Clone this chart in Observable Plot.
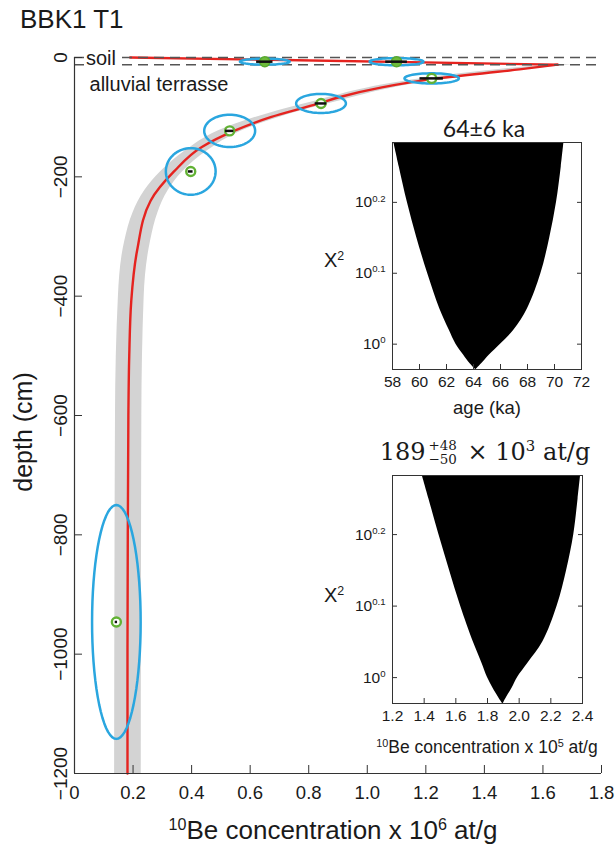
<!DOCTYPE html>
<html><head><meta charset="utf-8">
<script src="https://cdn.jsdelivr.net/npm/d3@7"></script>
<script src="https://cdn.jsdelivr.net/npm/@observablehq/plot@0.6"></script>
<style>
body{margin:0;background:#fff;}
#wrap{position:relative;width:615px;height:847px;overflow:hidden;font-family:"Liberation Sans",Arial,sans-serif;color:#1a1a1a;}
#wrap svg{position:absolute;overflow:visible;}
.lbl{position:absolute;white-space:nowrap;line-height:1;transform:translate(-50%,-50%);}
.lbl sup{font-size:62%;vertical-align:0.55em;line-height:0;}
</style></head><body><div id="wrap"></div>
<script>
// ---------- main profile data ----------
const concTicks = [0, 0.2, 0.4, 0.6, 0.8, 1.0, 1.2, 1.4, 1.6, 1.8];
const depthTicks = [0, -200, -400, -600, -800, -1000, -1200];
const layerDepths = [0, -12];

const sampleConc  = [0.65, 1.10, 1.22, 0.842, 0.53, 0.397, 0.143];
const sampleDepth = [-7, -7, -35, -77, -123, -191, -946];
const sampleErr   = [0.028, 0.037, 0.040, 0.020, 0.014, 0.008, 0.004];
const ellipseDx   = [0.085, 0.092, 0.093, 0.085, 0.087, 0.085, 0.083];
const ellipseDy   = [5, 6, 8.5, 16, 27, 39, 196];

const soilDepth = [0, -12];
const soilConc  = [0.19, 1.65];
const modelDepth = [-12, -20, -35, -50, -67, -77, -100, -123, -150, -191, -240, -323, -407, -500, -600, -800, -1000, -1200];
const modelConc  = [1.65, 1.52, 1.24, 1.05, 0.90, 0.835, 0.67, 0.545, 0.435, 0.34, 0.26, 0.214, 0.194, 0.187, 0.184, 0.182, 0.181, 0.181];
const bandDepth = [-12, -35, -77, -123, -156, -191, -223, -260, -307, -400, -600, -1200];
const bandLow   = [1.61, 1.19, 0.79, 0.49, 0.38, 0.295, 0.24, 0.20, 0.172, 0.150, 0.14, 0.137];
const bandHigh  = [1.70, 1.28, 0.87, 0.57, 0.455, 0.37, 0.32, 0.285, 0.26, 0.238, 0.23, 0.228];

// ---------- inset data ----------
const chiTickExp = ["0", "0.1", "0.2"];
const chiTicks = chiTickExp.map(e => 10 ** (+e));

const ageTicks = [58, 60, 62, 64, 66, 68, 70, 72];
const ageChi   = [1.925, 1.778, 1.585, 1.413, 1.259, 1.122, 1.047, 1.0, 0.966, 0.938, 0.921];
const ageLow   = [58.1, 58.5, 59.1, 59.8, 60.6, 61.5, 62.2, 62.7, 63.25, 63.75, 64.15];
const ageHigh  = [70.7, 70.5, 70.15, 69.65, 69.0, 68.0, 67.0, 66.0, 65.2, 64.6, 64.2];

const beTicks = [1.2, 1.4, 1.6, 1.8, 2.0, 2.2, 2.4];
const beChi   = [1.917, 1.778, 1.585, 1.413, 1.259, 1.122, 1.047, 1.0, 0.966, 0.938, 0.920];
const beLow   = [1.388, 1.43, 1.493, 1.56, 1.63, 1.71, 1.765, 1.80, 1.835, 1.87, 1.895];
const beHigh  = [2.388, 2.372, 2.345, 2.30, 2.24, 2.15, 2.055, 1.99, 1.955, 1.92, 1.90];

// ---------- helpers ----------
const wrap = document.getElementById("wrap");
const SVGNS = "http://www.w3.org/2000/svg";
function supify(root) {
  root.querySelectorAll("text").forEach(t => {
    const s = t.textContent;
    if (!s.includes("^{")) return;
    while (t.firstChild) t.removeChild(t.firstChild);
    const re = /\^\{([^}]*)\}/g; let last = 0, m;
    while ((m = re.exec(s))) {
      if (m.index > last) { const a = document.createElementNS(SVGNS, "tspan"); a.textContent = s.slice(last, m.index); t.appendChild(a); }
      const sp = document.createElementNS(SVGNS, "tspan");
      sp.textContent = m[1]; sp.setAttribute("font-size", "62%"); sp.setAttribute("dy", "-0.6em");
      t.appendChild(sp);
      last = re.lastIndex;
    }
  });
}
function place(el, left, top) { el.style.left = left + "px"; el.style.top = top + "px"; wrap.appendChild(el); }
function label(html, x, y, style) {
  const d = document.createElement("div"); d.className = "lbl"; d.innerHTML = html;
  Object.assign(d.style, style || {}); d.style.left = x + "px"; d.style.top = y + "px"; wrap.appendChild(d); return d;
}

// ---------- main chart ----------
const samples = sampleConc.map((c, i) => ({c, d: sampleDepth[i], e: sampleErr[i]}));
const ellipsePts = sampleConc.flatMap((c, i) => d3.range(0, 73).map(k => {
  const a = k / 72 * 2 * Math.PI;
  return {i, x: c + ellipseDx[i] * Math.cos(a), y: sampleDepth[i] + ellipseDy[i] * Math.sin(a)};
}));
const model = modelDepth.map((d, i) => ({d, c: modelConc[i]}));
const soil = soilDepth.map((d, i) => ({d, c: soilConc[i]}));
const band = bandDepth.map((d, i) => ({d, lo: bandLow[i], hi: bandHigh[i]}));

const main = Plot.plot({
  width: 615, height: 847,
  marginLeft: 74, marginRight: 14, marginTop: 57, marginBottom: 74,
  x: {domain: [0, 1.8], label: null},
  y: {domain: [-1200, 0], label: null},
  style: {fontFamily: "Liberation Sans, Arial, sans-serif", fontSize: "19px", color: "#1a1a1a", background: "transparent"},
  marks: [
    Plot.areaX(band, {y: "d", x1: "lo", x2: "hi", fill: "#d3d3d3", curve: "monotone-y"}),
    Plot.line(soil, {x: "c", y: "d", stroke: "#e5231f", strokeWidth: 2.4}),
    Plot.line(model, {x: "c", y: "d", stroke: "#e5231f", strokeWidth: 2.4, curve: "monotone-y"}),
    Plot.ruleY(layerDepths, {stroke: "#555", strokeWidth: 1.5, strokeDasharray: "10,6"}),
    Plot.line(ellipsePts, {x: "x", y: "y", z: "i", stroke: "#2aa6df", strokeWidth: 2.5}),
    Plot.dot(samples.filter(s => s.d > -20), {x: "c", y: "d", r: 5, fill: "#6dbb3a", stroke: "#5aa92f", strokeWidth: 1.5}),
    Plot.dot(samples.filter(s => s.d <= -20), {x: "c", y: "d", r: 4.5, fill: "#fff", stroke: "#62b234", strokeWidth: 2.4}),
    Plot.ruleY(samples, {y: "d", x1: s => s.c - s.e, x2: s => s.c + s.e, stroke: "#111", strokeWidth: 2.5}),
    Plot.ruleX([0], {stroke: "#333", strokeWidth: 1.2}),
    Plot.ruleY([-1200], {stroke: "#333", strokeWidth: 1.2}),
    Plot.axisX(concTicks, {tickSize: 8, dy: -8, tickPadding: 12, stroke: "#333", fontSize: 18.5, tickFormat: d => d === 0 ? "0" : d.toFixed(1), label: null}),
    Plot.axisY(depthTicks, {anchor: "left", tickSize: 8, dx: 8, stroke: "#333", fill: "none", label: null}),
    Plot.text(depthTicks, {y: d => d, frameAnchor: "left", rotate: -90, dx: -14, textAnchor: "middle", fontSize: 19,
      text: d => d === 0 ? "0" : "\u2212" + Math.abs(d)})
  ]
});
place(main, 0, 0);

// ---------- insets ----------
function inset(cfg) {
  const data = cfg.chi.map((c, i) => ({c, lo: cfg.lo[i], hi: cfg.hi[i]}));
  const p = Plot.plot({
    width: 300, height: cfg.h,
    marginLeft: 92, marginRight: cfg.mr, marginTop: cfg.mt, marginBottom: cfg.mb,
    x: {domain: cfg.xDomain, label: null},
    y: {type: "log", domain: cfg.yDomain, label: null},
    style: {fontFamily: "Liberation Sans, Arial, sans-serif", fontSize: "15.5px", color: "#1a1a1a", background: "transparent"},
    marks: [
      Plot.areaX(data, {y: "c", x1: "lo", x2: "hi", fill: "#000", curve: "catmull-rom"}),
      Plot.frame({stroke: "#333"}),
      Plot.axisX(cfg.xTicks, {tickSize: 5, dy: -5, tickPadding: 6, stroke: "#333", tickFormat: cfg.xFmt, label: null}),
      Plot.axisY(chiTicks, {anchor: "left", tickSize: 5, dx: 5, tickPadding: 7, stroke: "#333", label: null,
        tickFormat: d => "10^{" + chiTickExp[chiTicks.indexOf(d)] + "}"}),
      Plot.axisY(chiTicks, {anchor: "right", tickSize: 5, dx: -5, stroke: "#333", fill: "none", label: null})
    ]
  });
  supify(p);
  place(p, cfg.left, cfg.top);
}
inset({left: 300, top: 95, h: 330, mr: 19, mt: 47, mb: 56,
  xDomain: [58, 72], yDomain: [0.921, 1.925], xTicks: ageTicks, xFmt: d => String(d),
  chi: ageChi, lo: ageLow, hi: ageHigh});
inset({left: 300, top: 430, h: 300, mr: 18, mt: 45, mb: 27,
  xDomain: [1.2, 2.4], yDomain: [0.920, 1.917], xTicks: beTicks, xFmt: d => d.toFixed(1),
  chi: beChi, lo: beLow, hi: beHigh});

// ---------- titles and labels ----------
label("BBK1 T1", 20, 6, {fontSize: "26px", transform: "none"});
label("soil", 101, 58, {fontSize: "20px", background: "#fff", padding: "0 1px"});
label("alluvial terrasse", 159, 84, {fontSize: "20px"});
label("depth (cm)", 23, 432, {fontSize: "25px", transform: "translate(-50%,-50%) rotate(-90deg)"});
label("<sup>10</sup>Be concentration x 10<sup>6</sup> at/g", 333, 830, {fontSize: "26px"});

label("64±6 ka", 484, 128, {fontSize: "23px", fontFamily: "Lato, 'Open Sans', sans-serif"});
label("X<sup>2</sup>", 334, 260, {fontSize: "20px"});
label("age (ka)", 487, 408, {fontSize: "18.5px"});

label('189<span style="display:inline-block;vertical-align:middle;font-size:56%;line-height:1.05;text-align:left;margin:0 3px;"><span style="display:block">+48</span><span style="display:block">\u221250</span></span> × 10<sup>3</sup> at/g',
  485, 453, {fontSize: "24px", fontFamily: "'DejaVu Serif', 'Liberation Serif', serif"});
label("X<sup>2</sup>", 334, 595, {fontSize: "20px"});
label("<sup>10</sup>Be concentration x 10<sup>5</sup> at/g", 487, 748, {fontSize: "17.5px"});
</script></body></html>
